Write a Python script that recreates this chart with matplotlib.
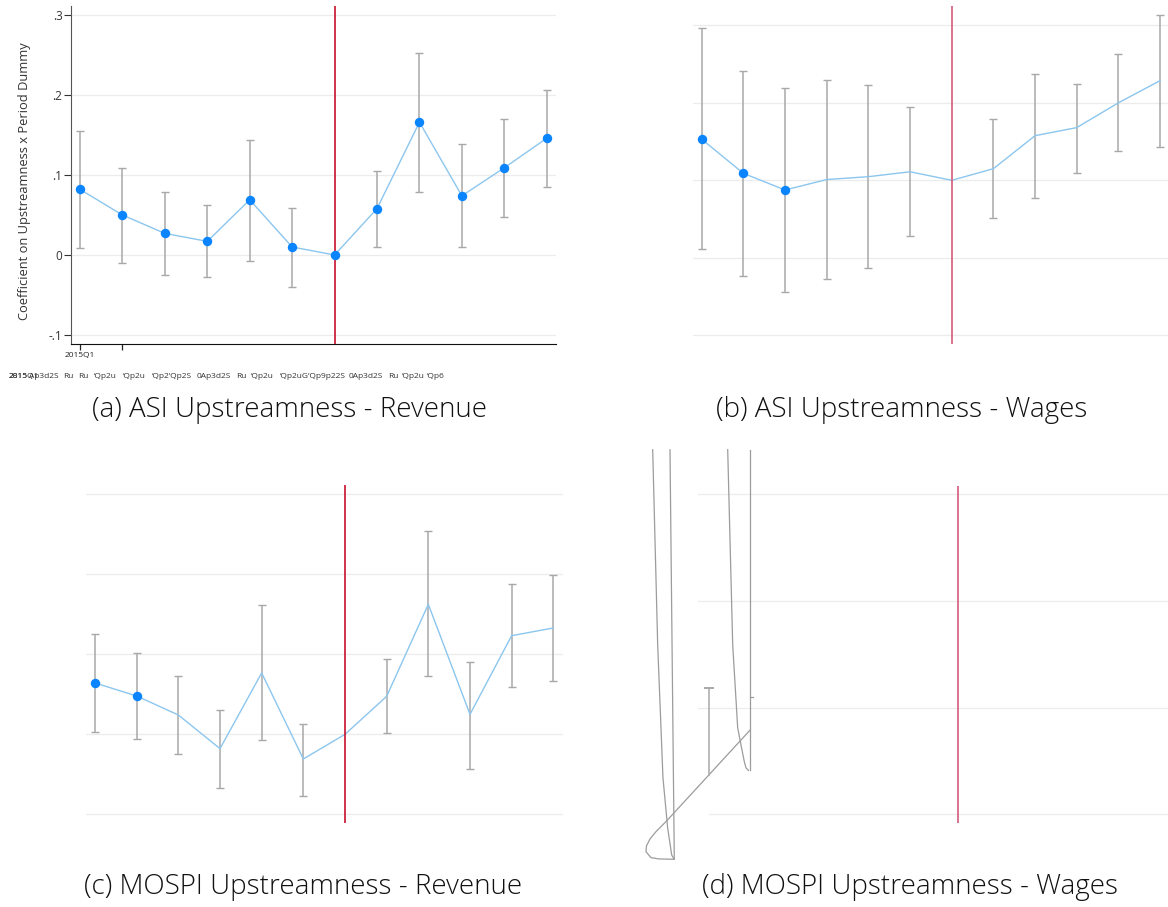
import numpy as np
import matplotlib.pyplot as plt

# event-study coefficients, 12 quarters starting 2015Q1 (reference quarter = index 6)
quarters = np.arange(12)
ref_q = 6

asi_rev_coef = [0.082, 0.050, 0.027, 0.017, 0.069, 0.010, 0.0, 0.058, 0.166, 0.074, 0.109, 0.146]
asi_rev_lo = [0.009, -0.010, -0.025, -0.028, -0.007, -0.040, np.nan, 0.010, 0.079, 0.0096, 0.048, 0.085]
asi_rev_hi = [0.155, 0.109, 0.079, 0.062, 0.144, 0.059, np.nan, 0.105, 0.2525, 0.139, 0.170, 0.206]

asi_wage_coef = [0.053, 0.009, -0.0125, 0.001, 0.0047, 0.011, 0.0, 0.015, 0.0576, 0.068, 0.100, 0.1286]
asi_wage_lo = [-0.089, -0.123, -0.144, -0.127, -0.1135, -0.072, np.nan, -0.0486, -0.0224, 0.0099, 0.0374, 0.0434]
asi_wage_hi = [0.196, 0.141, 0.119, 0.129, 0.123, 0.0946, np.nan, 0.0787, 0.137, 0.1247, 0.1626, 0.213]

mospi_rev_coef = [0.0642, 0.0479, 0.0242, -0.0179, 0.0767, -0.0308, 0.0, 0.0475, 0.1625, 0.025, 0.1233, 0.1329]
mospi_rev_lo = [0.0025, -0.0063, -0.025, -0.067, -0.0075, -0.0767, np.nan, 0.0013, 0.0729, -0.0429, 0.0592, 0.0671]
mospi_rev_hi = [0.1254, 0.1017, 0.0725, 0.030, 0.1617, 0.0133, np.nan, 0.0946, 0.254, 0.0908, 0.1875, 0.1996]

# panel (d) only got half drawn: stray error-bar strokes (quarter index, value)
d_left_curve_x = [-1.346, -1.226, -1.099, -0.986, -0.889, -0.834]
d_left_curve_y = [0.2415, 0.0588, -0.0659, -0.1128, -0.1381, -0.1419]
d_left_line_x = [-0.930, -0.827]
d_left_line_y = [0.2415, -0.1413]
d_hook_x = [-0.827, -1.1875, -1.387, -1.507, -1.495, -1.411, -1.267, -1.026, 1.0]
d_hook_y = [-0.1421, -0.1418, -0.1406, -0.1350, -0.1296, -0.1231, -0.1162, -0.1068, -0.0209]
d_right_curve_x = [0.457, 0.577, 0.697, 0.776, 0.856, 0.897, 0.957]
d_right_curve_y = [0.2415, 0.0588, -0.0190, -0.0350, -0.0506, -0.0565, -0.0589]
d_right_line_x = [1.0, 1.0]
d_right_line_y = [0.2415, -0.0584]
d_bar_x = 0
d_bar_lo, d_bar_hi = -0.063, 0.0187
d_half_cap_x = [1.0, 1.072]
d_half_cap_y = [0.0103, 0.0103]

ytick_vals = [-0.1, 0, 0.1, 0.2, 0.3]
ytick_labels = ["-.1", "0", ".1", ".2", ".3"]
first_quarter = "2015Q1"
garbled_ticks = ["Ap3d2S", "Ru", "Ru", "\u2018Qp2u", "\u2018Qp2u", "\u2018Qp2\u2018Qp2S", "0Ap3d2S",
                 "Ru", "\u2018Qp2u", "\u2018Qp2uG\u2018Qp9p22S", "0Ap3d2S", "Ru", "\u2018Qp2u", "\u2018Qp6"]
captions = ["(a) ASI Upstreamness - Revenue", "(b) ASI Upstreamness - Wages",
            "(c) MOSPI Upstreamness - Revenue", "(d) MOSPI Upstreamness - Wages"]
ylabel = "Coefficient on Upstreamness x Period Dummy"

LINE = "#8cc6ee"
DOT = "#0a84ff"
BAR = "#a8a8a8"
GRID = "#ececec"
RED = "#c8102e"
PINK = "#d65a7c"

W, H = 1168, 907
fig = plt.figure(figsize=(W / 100, H / 100), dpi=100)


def add_box(left, top, right, bottom):
    return fig.add_axes([left / W, 1 - bottom / H, (right - left) / W, (bottom - top) / H])


def bare(ax):
    for s in ax.spines.values():
        s.set_visible(False)
    ax.set_xticks([])
    ax.set_yticks([])


def coef_panel(ax, coef, lo, hi, n_dots, red, grid_vals):
    coef = np.asarray(coef)
    lo = np.asarray(lo)
    hi = np.asarray(hi)
    for g in grid_vals:
        ax.axhline(g, color=GRID, lw=0.9, zorder=0)
    ok = ~np.isnan(lo)
    ax.errorbar(quarters[ok], coef[ok], yerr=[coef[ok] - lo[ok], hi[ok] - coef[ok]],
                fmt="none", ecolor=BAR, elinewidth=1.1, capsize=2.6, capthick=1.0, zorder=2)
    ax.plot(quarters, coef, color=LINE, lw=1.0, zorder=3)
    ax.axvline(ref_q, color=red, lw=1.2, zorder=4)
    ax.plot(quarters[:n_dots], coef[:n_dots], "o", color=DOT, ms=6.8, mec="none", zorder=5)


# (a) ASI revenue, the only panel with axes drawn
ax_a = add_box(71, 6, 556, 344)
coef_panel(ax_a, asi_rev_coef, asi_rev_lo, asi_rev_hi, 12, RED, ytick_vals)
ax_a.set_xlim(-0.212, 11.218)
ax_a.set_ylim(-0.1113, 0.3113)
ax_a.spines[["top", "right"]].set_visible(False)
ax_a.spines["left"].set_color("#555555")
ax_a.spines["bottom"].set_color("#111111")
ax_a.set_yticks(ytick_vals, ytick_labels)
ax_a.tick_params(axis="y", length=5, width=0.8, pad=1.2, labelsize=8.5, colors="#333333")
ax_a.set_xticks([0, 1], [first_quarter, ""])
ax_a.tick_params(axis="x", length=4.5, width=0.9, pad=1.5, labelsize=6, colors="#222222")
for lab in ax_a.get_xticklabels() + ax_a.get_yticklabels():
    lab.set_family("Open Sans")
ax_a.set_ylabel(ylabel, fontsize=9.3, family="Open Sans", color="#333333")
ax_a.yaxis.set_label_coords(-0.0825, 0.482)

# overlapping tick labels left behind under panel (a)
garble_x = [29, 63, 78, 94, 123, 152, 197, 236, 251, 280, 349, 388, 402, 427]
for txt, px in zip(garbled_ticks, garble_x):
    fig.text(px / W, 1 - 376.5 / H, txt, fontsize=6, family="Open Sans", color="#333333",
             ha="left", va="center")
for txt in [first_quarter, "2815"]:
    fig.text(9 / W, 1 - 376.5 / H, txt, fontsize=6, family="Open Sans", color="#333333",
             ha="left", va="center")

# (b) ASI wages
ax_b = add_box(693, 6, 1168, 344)
coef_panel(ax_b, asi_wage_coef, asi_wage_lo, asi_wage_hi, 3, PINK, [-0.2, -0.1, 0, 0.1, 0.2])
ax_b.set_xlim(-0.209, 11.19)
ax_b.set_ylim(-0.2112, 0.2249)
bare(ax_b)

# (c) MOSPI revenue
ax_c = add_box(86, 485, 562.7, 823.3)
coef_panel(ax_c, mospi_rev_coef, mospi_rev_lo, mospi_rev_hi, 2, RED, ytick_vals)
ax_c.set_xlim(-0.216, 11.225)
ax_c.set_ylim(-0.1112, 0.3116)
bare(ax_c)

# (d) MOSPI wages
ax_d = add_box(698, 485.7, 1168, 823.3)
ax_d.set_xlim(-0.257, 11.04)
ax_d.set_ylim(-0.1084, 0.2078)
for g in [0, 0.1, 0.2]:
    ax_d.axhline(g, color=GRID, lw=0.9, zorder=0)
ax_d.axhline(-0.1, xmin=0.023, color=GRID, lw=0.9, zorder=0)
ax_d.axvline(ref_q, color=PINK, lw=1.2, zorder=4)
for xs, ys in [(d_left_curve_x, d_left_curve_y), (d_left_line_x, d_left_line_y),
               (d_hook_x, d_hook_y), (d_right_curve_x, d_right_curve_y),
               (d_right_line_x, d_right_line_y), (d_half_cap_x, d_half_cap_y)]:
    ax_d.plot(xs, ys, color="#9c9c9c", lw=0.9, clip_on=False, zorder=2)
ax_d.plot([d_bar_x, d_bar_x], [d_bar_lo, d_bar_hi], color=BAR, lw=1.1, clip_on=False, zorder=2)
ax_d.plot([d_bar_x], [d_bar_hi], "_", color=BAR, ms=7, mew=1.4, clip_on=False, zorder=2)
bare(ax_d)

# sub-captions
cap_pos = [(289, 410), (902, 410), (303, 887), (910, 887)]
for txt, (cx, cy) in zip(captions, cap_pos):
    fig.text(cx / W, 1 - cy / H, txt, fontsize=20, family="Open Sans", weight="light",
             color="#111111", ha="center", va="center")

fig.savefig("out.png", dpi=100)
